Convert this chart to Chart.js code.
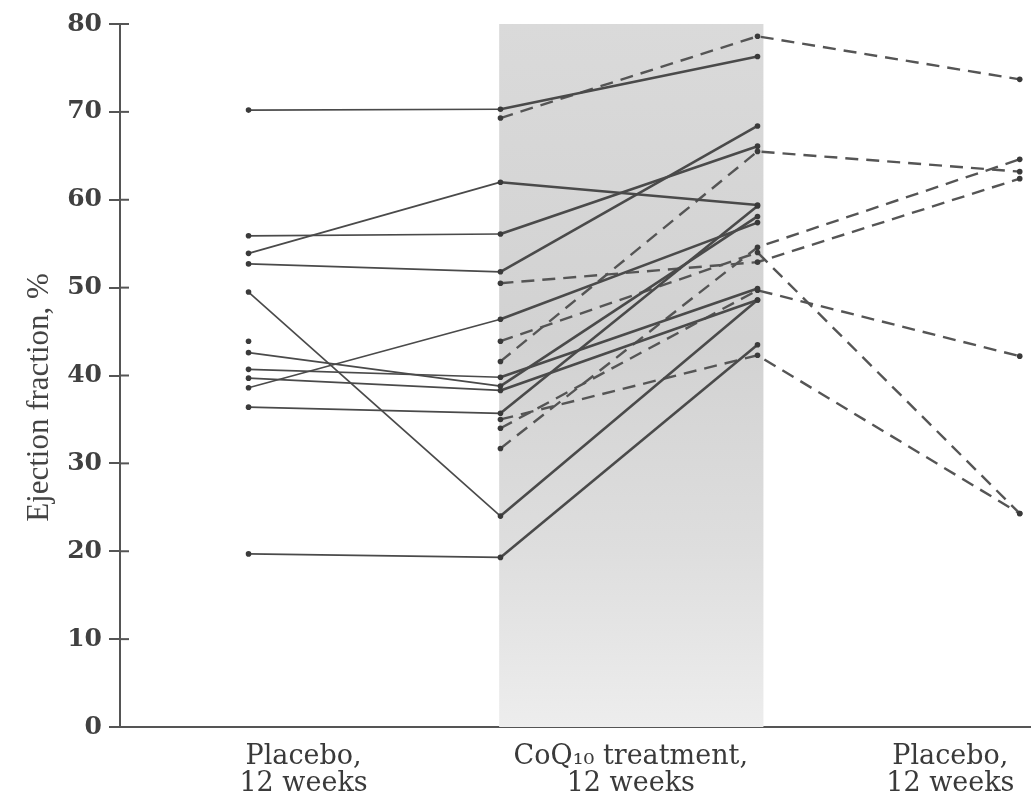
<!DOCTYPE html>
<html>
<head>
<meta charset="utf-8">
<script src="https://cdn.jsdelivr.net/npm/chart.js@4.4.1/dist/chart.umd.min.js"></script>
<style>
  html, body { margin: 0; padding: 0; background: #ffffff; }
  #wrap { width: 1034px; height: 795px; position: relative; }
</style>
</head>
<body>
<div id="wrap"><canvas id="c"></canvas></div>
<script>
// ---- data ----
// time points: placebo (first period), CoQ10 start, CoQ10 end, placebo (second period)
const timePoints = [1, 1.98, 2.98, 4];
const xTickValues = [1.214, 2.487, 3.73];
const xTickLabels = [["Placebo,", "12 weeks"], ["CoQ\u2081\u2080 treatment,", "12 weeks"], ["Placebo,", "12 weeks"]];
const yTicks = [0, 10, 20, 30, 40, 50, 60, 70, 80];
const yTitle = 'Ejection fraction, %';

// group 1: placebo first, then CoQ10 (solid lines)
const solidPlacebo  = [70.2, 53.9, 55.9, 52.7, 49.5, 42.6, 40.7, 39.7, 38.6, 36.4, 19.7];
const solidCoqStart = [70.3, 62.0, 56.1, 51.8, 24.0, 38.8, 39.8, 38.3, 46.4, 35.7, 19.3];
const solidCoqEnd   = [76.3, 59.4, 66.1, 68.4, 48.6, 58.1, 49.9, 48.6, 57.4, 59.3, 43.5];
// unpaired placebo value (no follow-up line)
const unpairedPlacebo = [43.9];

// group 2: CoQ10 first, then placebo (dashed lines)
const dashedCoqStart = [69.3, 41.6, 50.5, 31.7, 43.9, 34.0, 35.0];
const dashedCoqEnd   = [78.6, 65.5, 52.9, 54.6, 54.0, 49.7, 42.3];
const dashedPlacebo  = [73.7, 63.2, 62.4, 64.6, 24.3, 42.2, 24.3];

// ---- build datasets ----
const lineColor = '#4a4a4a';
const dotColor = '#3a3a3a';
const datasets = [];
solidPlacebo.forEach((v, i) => {
  datasets.push({
    data: [
      { x: timePoints[0], y: v },
      { x: timePoints[1], y: solidCoqStart[i] },
      { x: timePoints[2], y: solidCoqEnd[i] }
    ],
    borderColor: lineColor,
    borderWidth: 1.7,
    segment: { borderWidth: ctx => ctx.p0DataIndex === 1 ? 2.6 : 1.7 },
    pointRadius: 2.8, pointBackgroundColor: dotColor, pointBorderWidth: 0,
    tension: 0, fill: false
  });
});
unpairedPlacebo.forEach(v => {
  datasets.push({
    data: [{ x: timePoints[0], y: v }],
    showLine: false,
    pointRadius: 2.8, pointBackgroundColor: dotColor, pointBorderWidth: 0
  });
});
dashedCoqStart.forEach((v, i) => {
  datasets.push({
    data: [
      { x: timePoints[1], y: v },
      { x: timePoints[2], y: dashedCoqEnd[i] },
      { x: timePoints[3], y: dashedPlacebo[i] }
    ],
    borderColor: '#555555',
    borderWidth: 2.4,
    borderDash: [13, 8],
    pointRadius: 2.8, pointBackgroundColor: dotColor, pointBorderWidth: 0,
    tension: 0, fill: false
  });
});

// shaded CoQ10 treatment band
const bandPlugin = {
  id: 'band',
  beforeDatasetsDraw(chart) {
    const { ctx, scales: { x, y } } = chart;
    const x0 = x.getPixelForValue(1.975), x1 = x.getPixelForValue(3.003);
    const y0 = y.getPixelForValue(80), y1 = y.getPixelForValue(0);
    const g = ctx.createLinearGradient(0, y0, 0, y1);
    g.addColorStop(0, '#dadada');
    g.addColorStop(0.45, '#d2d2d2');
    g.addColorStop(0.75, '#dedede');
    g.addColorStop(1, '#ededed');
    ctx.save();
    ctx.fillStyle = g;
    ctx.fillRect(x0, y0, x1 - x0, y1 - y0);
    ctx.restore();
  }
};
// tick marks crossing into the plot + y-axis title placed like the reference
const axisExtras = {
  id: 'axisExtras',
  afterDraw(chart) {
    const { ctx, scales: { y } } = chart;
    ctx.save();
    ctx.strokeStyle = '#555';
    ctx.lineWidth = 2;
    y.ticks.forEach(t => {
      const py = y.getPixelForValue(t.value);
      ctx.beginPath();
      ctx.moveTo(y.right, py);
      ctx.lineTo(y.right + 9, py);
      ctx.stroke();
    });
    ctx.translate(40, y.getPixelForValue(37.5));
    ctx.rotate(-Math.PI / 2);
    ctx.fillStyle = '#444';
    ctx.font = '31px "Liberation Serif"';
    ctx.textAlign = 'center';
    ctx.textBaseline = 'middle';
    ctx.fillText(yTitle, 0, 0);
    ctx.restore();
  }
};

new Chart(document.getElementById('c'), {
  type: 'line',
  data: { datasets },
  plugins: [bandPlugin, axisExtras],
  options: {
    responsive: true,
    maintainAspectRatio: false,
    animation: false,
    layout: { padding: { top: 24, right: 4, left: 0, bottom: 0 } },
    plugins: { legend: { display: false }, tooltip: { enabled: false } },
    scales: {
      x: {
        type: 'linear',
        min: 0.5, max: 4.04,
        afterBuildTicks: s => { s.ticks = xTickValues.map(v => ({ value: v })); },
        afterFit: s => { s.height = 68; },
        grid: { display: false },
        border: { display: true, color: '#555', width: 2 },
        ticks: {
          autoSkip: false, maxRotation: 0, padding: 8,
          color: '#3a3a3a',
          font: { family: 'DejaVu Serif', size: 27, lineHeight: 1.02 },
          callback: (v, i) => xTickLabels[i]
        }
      },
      y: {
        min: 0, max: 80,
        afterBuildTicks: s => { s.ticks = yTicks.map(v => ({ value: v })); },
        afterFit: s => { s.width = 120; },
        grid: { drawOnChartArea: false, tickLength: 11, color: '#555', lineWidth: 2 },
        border: { display: true, color: '#555', width: 2 },
        ticks: {
          padding: 7, color: '#404040',
          font: { family: 'DejaVu Serif', size: 25, weight: 'bold' }
        },
        title: { display: false }
      }
    }
  }
});
</script>
</body>
</html>
